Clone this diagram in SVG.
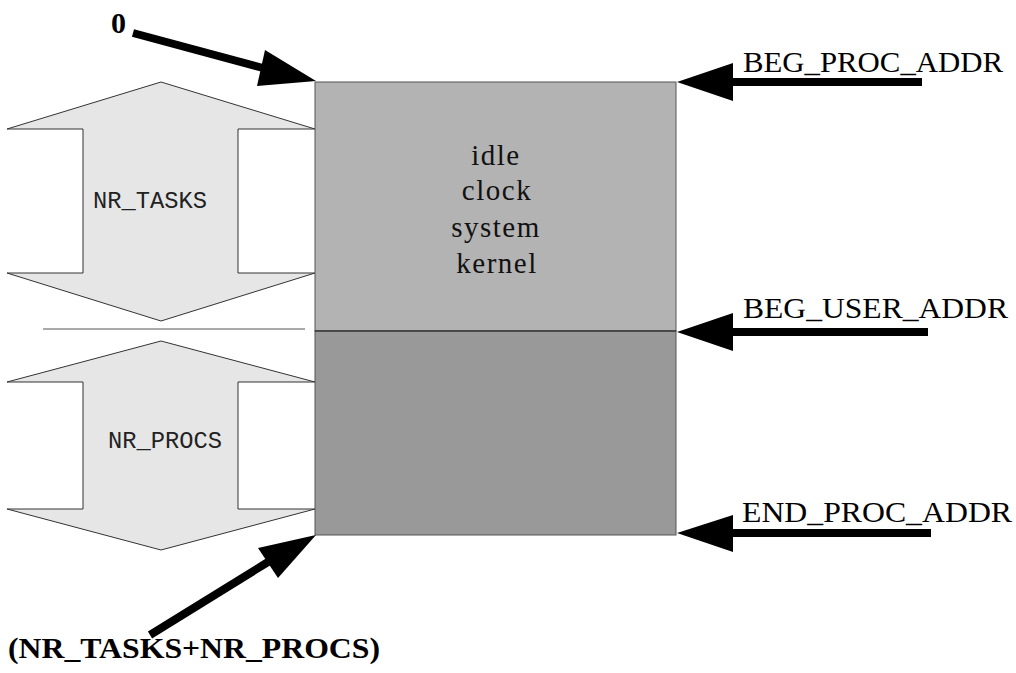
<svg xmlns="http://www.w3.org/2000/svg" width="1016" height="673" viewBox="0 0 1016 673">
<style>
.ud{fill:#e6e6e6;stroke:#333;stroke-width:1}
.mono{font-family:"Courier New","Nimbus Mono PS","Liberation Mono",monospace;font-size:23px;fill:#222}
.serif{font-family:"Liberation Serif","Times New Roman",serif;font-size:30px;fill:#000}
.bold{font-weight:bold}
.mid{font-family:"Liberation Serif","Times New Roman",serif;font-size:29px;fill:#111;text-anchor:middle;letter-spacing:1.5px}
.shaft{stroke:#000;stroke-width:8;fill:none}
.head{fill:#000}
</style>
<rect width="1016" height="673" fill="#fff"/>
<g id="nr_tasks">
<polygon class="ud" points="161,82 315,129 238,129 238,273 315,273 161,321 7,273 83,273 83,129 7,129"/>
<text class="mono" x="150" y="208" text-anchor="middle" textLength="114" lengthAdjust="spacingAndGlyphs">NR_TASKS</text>
</g>
<g id="divider">
<line x1="43" y1="329" x2="305" y2="329" stroke="#555" stroke-width="1"/>
</g>
<g id="nr_procs">
<polygon class="ud" points="161,341 315,382 238,382 238,509 315,509 161,550 7,509 83,509 83,382 7,382"/>
<text class="mono" x="165" y="448" text-anchor="middle" textLength="114" lengthAdjust="spacingAndGlyphs">NR_PROCS</text>
</g>
<g id="proc_upper">
<rect x="315" y="82" width="361" height="249" fill="#b3b3b3" stroke="#555" stroke-width="1"/>
<text class="mid" x="496" y="165">idle</text>
<text class="mid" x="497" y="200">clock</text>
<text class="mid" x="496" y="237">system</text>
<text class="mid" x="497" y="273">kernel</text>
</g>
<g id="proc_lower">
<rect x="315" y="331" width="361" height="204" fill="#999999" stroke="#555" stroke-width="1"/>
<line x1="315" y1="331" x2="676" y2="331" stroke="#222" stroke-width="1"/>
</g>
<g id="connectors">
<line class="shaft" x1="133" y1="33" x2="263" y2="68"/>
<polygon class="head" points="316,81 265,50 257,86"/>
<line class="shaft" x1="150" y1="635" x2="268" y2="562"/>
<polygon class="head" points="316,535 258,548 278,578"/>
<line class="shaft" x1="730" y1="82" x2="922" y2="82"/>
<polygon class="head" points="677,82 733,63 733,101"/>
<line class="shaft" x1="730" y1="332" x2="928" y2="332"/>
<polygon class="head" points="677,332 733,313 733,351"/>
<line class="shaft" x1="730" y1="533" x2="931" y2="533"/>
<polygon class="head" points="677,533 733,515 733,552"/>
</g>
<g id="labels">
<text class="serif bold" x="111" y="33">0</text>
<text class="serif bold" x="8" y="658" textLength="372" lengthAdjust="spacingAndGlyphs">(NR_TASKS+NR_PROCS)</text>
<text class="serif" x="743" y="72" textLength="260" lengthAdjust="spacingAndGlyphs">BEG_PROC_ADDR</text>
<text class="serif" x="743" y="318" textLength="265" lengthAdjust="spacingAndGlyphs">BEG_USER_ADDR</text>
<text class="serif" x="742" y="522" textLength="270" lengthAdjust="spacingAndGlyphs">END_PROC_ADDR</text>
</g>
</svg>
